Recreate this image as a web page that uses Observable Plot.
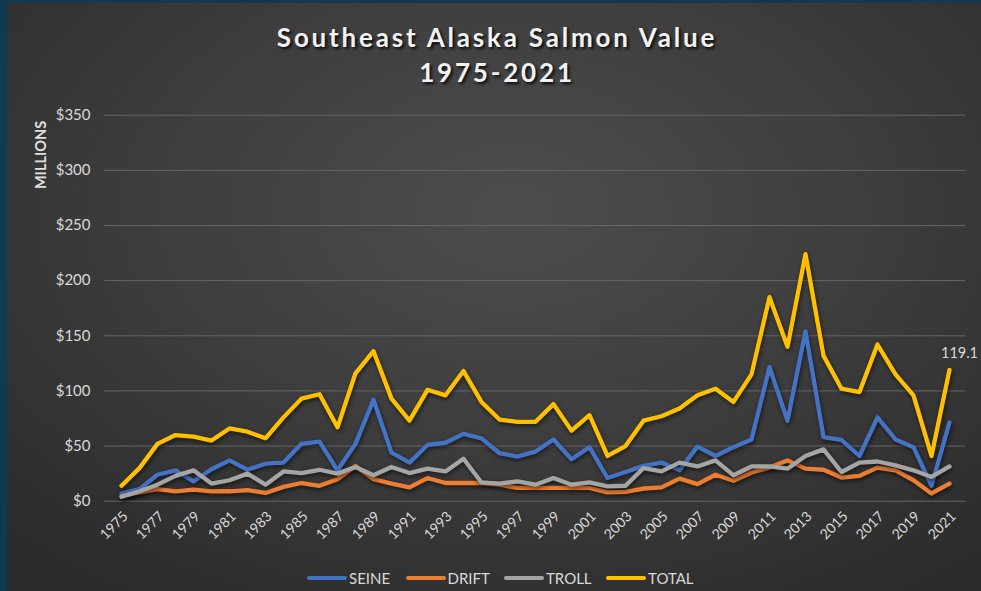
<!DOCTYPE html>
<html><head><meta charset="utf-8">
<script src="https://cdn.jsdelivr.net/npm/d3@7"></script>
<script src="https://cdn.jsdelivr.net/npm/@observablehq/plot@0.6"></script>
<style>
html,body{margin:0;padding:0;width:981px;height:591px;overflow:hidden;background:#0f3a52;font-family:Lato,"Open Sans",sans-serif;}
#panel{position:absolute;left:7px;top:3px;width:974px;height:588px;background:radial-gradient(ellipse 75% 80% at 52% 35%, #4d4d4d 0%, #3d3d3d 50%, #2a2a2a 100%);}
#title{position:absolute;left:0;top:20px;width:994px;text-align:center;color:#f2f2f2;font-weight:700;font-size:26px;letter-spacing:2.8px;line-height:35px;text-shadow:2px 2px 3px rgba(0,0,0,0.85);}
#ylabel{position:absolute;left:40px;top:155px;transform:translate(-50%,-50%) rotate(-90deg);color:#e0e0e0;font-weight:700;font-size:14.5px;white-space:nowrap;}
#chart{position:absolute;left:0;top:100px;}
.item{position:absolute;top:569px;height:18px;display:flex;align-items:center;color:#d9d9d9;font-size:15px;}
.sw{width:40px;height:4px;border-radius:2px;margin-right:2px;}
</style></head>
<body>
<div id="panel"></div>
<div id="title">Southeast Alaska Salmon Value<br>1975-2021</div>
<div id="ylabel">MILLIONS</div>
<div id="chart"></div>
<div id="legend"></div>
<script>
const years = d3.range(1975, 2022).map(String);
const seriesNames = ["SEINE", "DRIFT", "TROLL", "TOTAL"];
const seriesColors = ["#4472c4", "#ed7d31", "#a5a5a5", "#ffc000"];
const seine = [7,11,24,28,18,29,37,28.5,34,35,52,54,28,52,92,44,35,51,53,61,57,43.5,40.5,45,56,38,49,21,26.5,32,35,28,49.5,41,49,56,121.5,73,154,58,55.5,41,76,56,49,14,71.5];
const drift = [4.5,8,11,9,10.5,9,9,10,7.5,13,16.5,14,20,32,20,16,12.5,21,16.5,16.5,16.5,15,12,12,12,12,12,8,8.5,11.5,12.5,20.5,15.5,24,18.5,26,30.5,37,29.5,28.5,21.5,23,30.5,28,19,7,16];
const troll = [4,9,15,23,28,16,19,25,15,27,25.5,28.5,25,31,23.5,31,25.5,29.5,27,38.5,17,16,18,15,21,15,17,13.5,14,30,27,35,31.5,37,23.5,31.5,31.5,29.5,41,47,26.5,35,36,32.5,28,22,31.5];
const total = [14,30,52,60,58.5,55,66,63,57,76,93,97,67,116,136,93,73,101,96,118,90,74,72,72,88,64,78,41,50,73,77,84,96,102,90,115,185,140,224,132,102,99,142,115,96,41,119.1];
const yTicks = [0,50,100,150,200,250,300,350];
const xTicks = years.filter((d,i) => i % 2 === 0);
const legendLeft = [307, 405.5, 504, 606];

const seriesValues = [seine, drift, troll, total];
const rows = [];
seriesNames.forEach((s, si) => years.forEach((y, i) => rows.push({series: s, year: y, value: seriesValues[si][i]})));
const lastLabel = [{year: years[years.length-1], value: total[total.length-1]}];

const plot = Plot.plot({
  width: 981,
  height: 460,
  marginLeft: 104,
  marginRight: 16,
  marginTop: 14.7,
  marginBottom: 59.3,
  style: {background: "transparent", color: "#d9d9d9", fontFamily: "Lato, 'Open Sans', sans-serif", overflow: "visible"},
  x: {type: "point", domain: years, padding: 0.5},
  y: {domain: [0, 350]},
  color: {domain: seriesNames, range: seriesColors},
  marks: [
    Plot.ruleY(yTicks, {stroke: "#666666", strokeWidth: 1}),
    Plot.axisY({ticks: yTicks, tickFormat: d => "$" + d, tickSize: 0, tickPadding: 14, fontSize: 15, label: null}),
    Plot.axisX({ticks: xTicks, tickRotate: -45, tickSize: 0, tickPadding: 13, dx: 4, fontSize: 14, label: null}),
    Plot.lineY(rows, {x: "year", y: "value", z: "series", stroke: "series", strokeWidth: 4.3, strokeLinejoin: "round", strokeLinecap: "round"}),
    Plot.text(lastLabel, {x: "year", y: "value", text: d => String(d.value), dy: -16, dx: 10, fontSize: 14.5, fill: "#d9d9d9"})
  ]
});
d3.select(plot).selectAll("g[aria-label='line'] path").style("filter", "drop-shadow(1px 2px 2px rgba(0,0,0,0.6))");
document.getElementById("chart").appendChild(plot);

const legend = d3.select("#legend");
seriesNames.forEach((s, i) => {
  const it = legend.append("div").attr("class", "item").style("left", legendLeft[i] + "px");
  it.append("div").attr("class", "sw").style("background", seriesColors[i]);
  it.append("span").text(s);
});
</script>
</body></html>
